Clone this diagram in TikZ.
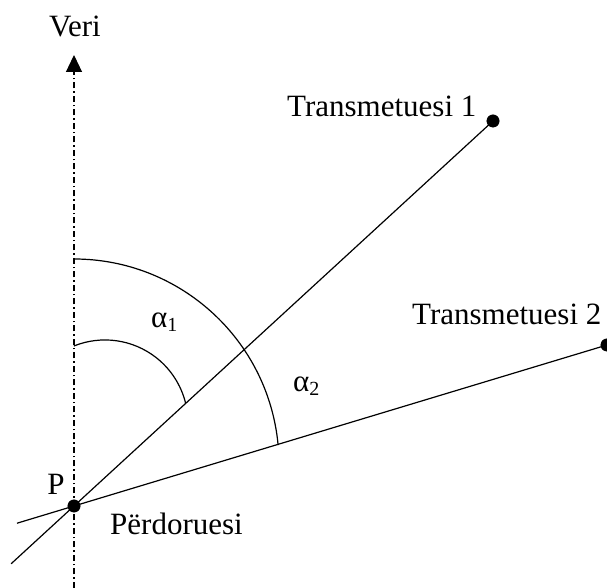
\documentclass[tikz,border=0pt]{standalone}
\usepackage{fontspec}
\setmainfont{Liberation Serif}
\usepackage{tikz}
\usetikzlibrary{arrows.meta,calc}
\tikzset{
  geo/dot/.style={draw, circle, fill=black, inner sep=0pt, minimum size=12.5pt},
  geo/ray/.style={line width=1.2pt},
  geo/axis/.style={line width=1.2pt, dash pattern=on 6pt off 3pt on 1.5pt off 3pt, -{Triangle[length=17pt,width=16pt]}},
  geo/arcline/.style={line width=1.2pt},
  geo/label/.style={font=\fontsize{31}{36}\selectfont, inner sep=0pt, anchor=base west},
}
\newcommand{\angsub}[1]{\raisebox{-4pt}{\fontsize{20}{20}\selectfont #1}}

\begin{document}
\begin{tikzpicture}[x=1pt, y=1pt]
  \useasboundingbox (0,0) rectangle (607,588);
  \node[geo/dot] (P) at (74,82) {};
  \node[geo/dot] (tx1) at (493,467) {};
  \node[geo/dot] (tx2) at (607,243) {};

  \coordinate (axbot) at (74,0);
  \coordinate (axtop) at (74,533);
  \coordinate (back1) at ($(P)!-0.15!(tx1)$);
  \coordinate (back2) at ($(P)!-0.107!(tx2)$);
  \coordinate (arcin) at (73.9,242);
  \coordinate (arcout) at (74,329);

  \draw[geo/axis] (axbot) -- (axtop);
  \draw[geo/ray] (back1) -- (tx1.center);
  \draw[geo/ray] (back2) -- (tx2.center);
  \draw[geo/arcline] (arcin) arc[start angle=112, end angle=14, radius=83];
  \draw[geo/arcline] (arcout) arc[start angle=90, end angle=5.3, radius=205];

  \node[geo/label, anchor=base] (veri) at (75,551) {Veri};
  \node[geo/label, anchor=base] (plabel) at (56,93) {P};
  \node[geo/label] (user) at (110,53) {Përdoruesi};
  \node[geo/label] (tx1label) at (287,471) {Transmetuesi 1};
  \node[geo/label] (tx2label) at (412,263) {Transmetuesi 2};
  \node[geo/label] (alpha1) at (151,260) {α\angsub{1}};
  \node[geo/label] (alpha2) at (293,196) {α\angsub{2}};
\end{tikzpicture}
\end{document}
